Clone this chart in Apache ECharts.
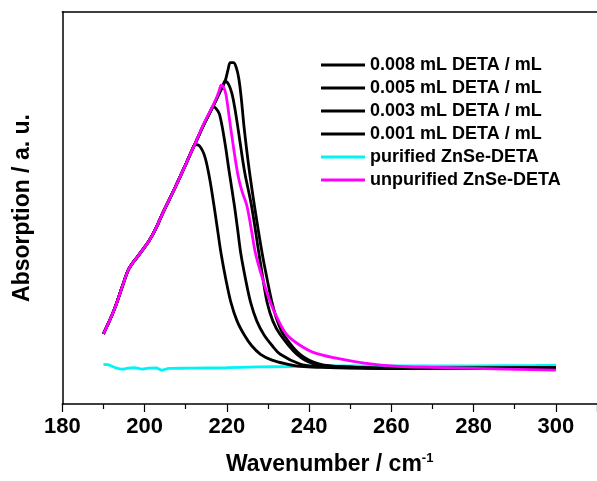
<!DOCTYPE html>
<html>
<head>
<meta charset="utf-8">
<script src="https://cdn.jsdelivr.net/npm/echarts@6/dist/echarts.min.js"></script>
<style>html,body{margin:0;padding:0;background:#fff;}#c{width:597px;height:481px;}</style>
</head>
<body>
<div id="c"></div>
<script>
// Series names (legend order)
const seriesNames = ['0.008 mL DETA / mL','0.005 mL DETA / mL','0.003 mL DETA / mL','0.001 mL DETA / mL','purified ZnSe-DETA','unpurified ZnSe-DETA'];
const seriesColors = ['#000000','#000000','#000000','#000000','#00f4f4','#ff00ff'];
const xTicks = [180,200,220,240,260,280,300];

// Common rising edge (wavenumber / absorption a.u.)
const riseX = [190,192.64,194.63,196.24,198.63,201.03,202.64,204.22,207.43,209.83,211.41];
const riseY = [72,97,121,139,153,167,179,194,222,244,259];

// 0.001 mL DETA / mL
const x001 = riseX.concat([212.3,213.3,214.63,215.83,216.86,217.7,218.61,219.8,221.01,222.5,224.22,226,228.2,231,234.6,238,243,250,270,300]);
const y001 = riseY.concat([266,265,254,231,204,180,154,127,104,85,71,60,51,45,41,38.5,37.5,36.8,36.5,37]);

// 0.003 mL DETA / mL
const x003 = riseX.concat([212.3,214.34,216.1,216.62,217.4,218.23,219.42,220.62,221.82,222.6,223.41,224.6,225.8,227.3,229.02,231,233,237.8,242,248,260,300]);
const y003 = riseY.concat([267,286,301,305,303,297,271,237,204,180,154,127,104,85,71,60,51,41,38.5,37.3,36.6,37]);

// 0.005 mL DETA / mL
const x005 = riseX.concat([212.3,214.34,216.62,218.1,219.0,219.57,220.4,221.2,222.0,222.85,224.29,225.97,227.82,228.8,229.81,231.2,233.0,237.0,241.0,248,260,300]);
const y005 = riseY.concat([267,286,305,318,326,331,328,319,302,279,239,204,154,128,104,85,71,51,41.3,38,36.6,37]);

// 0.008 mL DETA / mL
const x008 = riseX.concat([212.3,214.34,216.62,218.1,219.57,220.3,220.86,221.6,222.3,222.9,223.5,224.22,225.42,226.8,228.61,229.8,231.0,232.3,233.81,237.79,242.59,250,260,300]);
const y008 = riseY.concat([267,286,305,318,331,343,350,350,345,334,314,283,241,201,154,128,104,85,71,51,41,38,36.5,37.3]);

// purified ZnSe-DETA
const xPur = [190,191,192,193,194.6,196,197.5,199.4,201,202.8,204.2,206,211.4,220,227.4,235,243.4,260,280,295,300];
const yPur = [40.7,40.3,39,37,35.7,36.8,37.2,35.8,36.8,36.9,34.8,36.5,36.7,37.2,38,38.4,39,39,39.2,39.5,39.8];

// unpurified ZnSe-DETA
const xUnp = riseX.concat([212.3,214.34,216.62,217.6,218.2,218.61,219.2,219.81,221.01,222.61,223.7,224.84,226,227.0,228.8,230.6,232.5,234.6,237.5,241,246.6,253.4,261.6,270,280,300]);
const yUnp = riseY.concat([267,287,306,315,322,327,325,317,281,237,218,204,178,154,127,104,86,71,61,53,47,42,38.6,37.5,36.5,34.7]);

const xs = [x008,x005,x003,x001,xPur,xUnp];
const ys = [y008,y005,y003,y001,yPur,yUnp];

const series = seriesNames.map((name,i)=>({
  name: name,
  type: 'line',
  data: xs[i].map((x,j)=>[x, ys[i][j]]),
  showSymbol: false,
  symbol: 'none',
  smooth: 0.35,
  lineStyle: {color: seriesColors[i], width: 2.8},
  itemStyle: {color: seriesColors[i]},
  z: i === 5 ? 5 : (i === 4 ? 2 : 3),
  animation: false
}));

const chart = echarts.init(document.getElementById('c'), null, {renderer:'canvas'});
const fontFam = '"Liberation Sans", Arial, sans-serif';
chart.setOption({
  animation: false,
  backgroundColor: '#ffffff',
  grid: {left: 62.3, right: -7.4, top: 12, bottom: 67},
  legend: {
    orient: 'vertical',
    left: 316,
    top: 48.5,
    icon: 'rect',
    itemWidth: 44,
    itemHeight: 3,
    itemGap: 0,
    data: seriesNames,
    textStyle: {fontFamily: fontFam, fontWeight: 'bold', fontSize: 18, lineHeight: 23, color: '#000'}
  },
  xAxis: [{
    type: 'value',
    min: 180,
    max: 310,
    interval: 20,
    name: '{a|Wavenumber / cm}{s|-1}',
    nameLocation: 'middle',
    nameGap: 48,
    nameTextStyle: {
      rich: {
        a: {fontFamily: fontFam, fontWeight: 'bold', fontSize: 23, color: '#000'},
        s: {fontFamily: fontFam, fontWeight: 'bold', fontSize: 13, color: '#000', verticalAlign: 'top', padding: [0,0,12,0]}
      }
    },
    axisLine: {show: true, onZero: false, lineStyle: {color: '#000', width: 1.5}},
    axisTick: {show: true, inside: false, length: 8, lineStyle: {color: '#000', width: 1.2}},
    minorTick: {show: true, splitNumber: 2, length: 5, lineStyle: {color: '#000', width: 1.2}},
    splitLine: {show: false},
    axisLabel: {
      margin: 12,
      showMaxLabel: false,
      fontFamily: fontFam, fontWeight: 'bold', fontSize: 22, color: '#000',
      formatter: v => (xTicks.indexOf(v) >= 0 ? String(v) : '')
    }
  },{
    type: 'value',
    position: 'top',
    min: 180,
    max: 310,
    interval: 20,
    axisLine: {show: true, onZero: false, lineStyle: {color: '#000', width: 1.5}},
    axisTick: {show: false},
    axisLabel: {show: false},
    splitLine: {show: false}
  }],
  yAxis: {
    type: 'value',
    min: 0,
    max: 402,
    name: 'Absorption / a. u.',
    nameLocation: 'middle',
    nameGap: 28,
    nameTextStyle: {fontFamily: fontFam, fontWeight: 'bold', fontSize: 23, color: '#000'},
    axisLine: {show: true, onZero: false, lineStyle: {color: '#000', width: 1.5}},
    axisTick: {show: false},
    axisLabel: {show: false},
    splitLine: {show: false}
  },
  series: series
});
</script>
</body>
</html>
